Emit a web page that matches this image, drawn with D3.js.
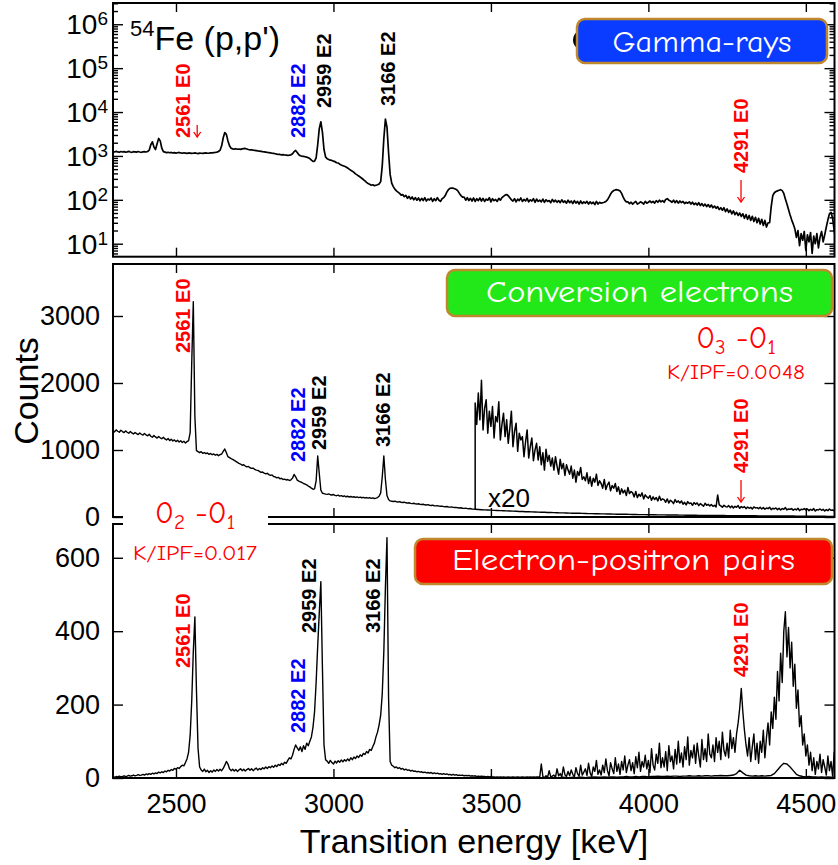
<!DOCTYPE html>
<html>
<head>
<meta charset="utf-8">
<script src="https://cdn.jsdelivr.net/npm/d3@7"></script>
<style>
  body { margin: 0; background: #fff; }
  svg { display: block; }
</style>
</head>
<body>
<svg id="chart" width="838" height="865"></svg>
<script>
// ---- spectra (counts per bin), energies in keV ----
const eStart = 2300, eStep = 5;

// gamma-ray spectrum 2300..4600 keV
const gammaCounts = [
  1250,1230,1270,1240,1210,1260,1230,1250,1220,1240,1270,1230,1210,1250,1240,1220,1260,1230,1210,1240,1250,1230,1260,
  1350,1800,2100,1600,1400,1900,2500,2200,1500,1250,
  1220,1190,1210,1180,1200,1170,1190,1160,1180,1200,1170,1150,1180,1160,1140,1170,1160,1140,1150,1170,1150,1130,1160,1150,1140,1160,1170,1150,1160,1180,1170,1190,1200,1220,1260,1350,
  1700,2600,3400,3100,2200,1700,1500,1450,
  1430,1460,1420,1440,1410,1450,1470,1480,1440,1400,1380,1370,1350,1340,1320,1300,1290,1270,1250,1240,1220,1200,1190,1170,1150,1140,1120,1100,1090,1080,1060,1070,1050,1040,1030,1040,
  1060,1120,1250,1330,1200,1060,1010,990,980,960,940,910,870,800,750,760,900,
  1800,4200,6000,3500,1400,950,860,
  830,800,790,760,740,700,690,650,620,600,580,560,530,500,470,450,420,390,370,350,330,310,290,270,250,235,225,215,220,210,215,220,230,260,
  600,2500,6900,4500,1200,380,240,200,
  175,160,150,140,128,132,118,126,108,120,104,116,100,112,98,110,95,108,96,112,94,104,99,110,92,106,96,112,98,92,106,112,125,
  150,170,182,186,184,178,172,160,140,125,115,
  115,98,112,96,108,94,110,92,106,96,110,94,108,92,104,98,112,90,106,96,
  102,92,108,98,112,120,128,132,124,112,100,94,106,90,104,96,110,92,102,94,
  108,90,100,94,106,88,104,92,98,90,104,88,100,92,96,86,102,90,98,88,
  96,86,100,88,94,84,98,86,94,82,96,84,92,80,94,82,90,84,92,80,
  90,82,88,78,92,80,88,84,
  86,88,92,100,115,135,152,163,168,170,166,160,140,115,98,90,
  90,82,88,80,86,92,80,84,90,86,80,92,84,88,94,86,92,84,96,88,
  98,90,96,88,102,106,98,94,88,98,86,96,84,94,86,92,82,88,84,90,
  80,88,78,84,76,86,74,82,72,80,70,78,68,76,66,72,64,70,60,66,
  58,66,54,62,52,58,48,56,46,52,44,50,42,48,38,46,36,44,34,42,
  32,40,30,38,28,36,26,34,24,30,
  30,70,125,145,155,160,165,170,162,140,105,80,60,45,35,28,
  22,14,20,9,17,12,19,7,16,11,18,6,15,10,17,8,14,19,11,16,24,35,48,52,38,20,12,17
];

// conversion-electron spectrum 2300..3445 keV
const electronCounts = [
  1290,1270,1300,1280,1265,1295,1275,1260,1285,1265,1250,1275,1255,1240,1262,1245,1230,1255,1235,1222,
  1245,1225,1212,1235,1205,1190,1215,1195,1178,1200,1182,1168,1190,1165,1150,1172,1140,1160,1135,1150,
  1125,1145,1120,1138,1112,1130,1105,1125,1140,
  1260,2300,3215,1500,990,975,
  960,975,950,962,945,955,935,948,930,940,922,935,915,930,940,
  980,1015,960,900,
  885,870,860,845,830,815,800,790,772,780,760,748,755,735,725,730,710,700,695,680,
  665,672,655,645,652,632,620,628,605,598,585,592,570,578,560,566,552,560,545,555,
  580,635,600,
  550,535,525,515,500,490,480,462,450,430,415,420,
  540,910,650,400,355,
  350,342,338,345,332,328,336,322,318,326,312,318,306,314,302,310,298,306,296,302,
  292,300,290,296,287,294,284,290,282,288,278,285,276,282,290,310,360,
  600,910,560,320,260,
  240,236,232,236,228,224,229,220,216,221,212,208,213,204,200,205,196,193,198,189,
  186,190,182,179,184,175,172,176,168,166,170,162,160,163,155,153,157,149,147,150,
  143,141,144,137,135,138,131,129,132,125,123,126,119,117
];

// conversion-electron tail 3450..4600 keV
const tailStart = 3450, tailStep = 10;
const electronTail = [
  115,112,109,107,104,102,99,97,95,93, 91,89,87,85,83,81,79,78,76,74,
  73,71,70,68,67,65,64,62,61,60, 58,57,56,55,54,52,51,50,49,48,
  47,46,45,44,43,42,41,40,40,39, 38,37,36,36,35,34,34,33,32,32,
  31,30,30,29,29,28,28,27,27,26, 26,25,25,24,24,23,23,22,22,22,
  21,21,20,20,20,19,19,18,18,18, 17,17,17,16,16,16,15,15,15,14,
  14,14,13,13,13,12,12,12,12,11, 11,11,10,10,10,9
];

// conversion-electron tail multiplied by 20, 3450..4600 keV
const x20Start = 3450, x20Step = 5;
const electronX20 = [
  1700,1380,1850,1450,2040,1300,1620,1750,1250,1580,
  1350,1650,1180,1500,1420,1720,1150,1380,1550,1200,
  1450,1100,1320,1580,1050,1280,1400,980,1250,1150,
  1200,900,1120,1300,880,1050,1180,840,1000,1100,
  850,1050,780,960,700,1010,830,920,760,880,
  700,900,760,640,860,720,800,620,780,700,
  640,760,580,700,520,680,620,740,560,600,
  540,660,500,600,460,580,520,640,470,540,
  500,430,560,410,480,520,390,470,430,500,
  380,450,340,420,360,400,320,440,350,380,
  360,300,380,290,340,310,360,270,330,300,
  280,320,250,300,260,290,240,310,250,270,
  260,220,270,210,250,230,200,260,220,240,
  210,240,190,220,180,230,200,210,175,215,
  190,210,170,200,180,160,205,175,190,165,
  185,160,175,150,330,180,165,145,175,155,
  150,170,140,165,135,160,145,170,130,155,
  140,155,125,150,130,145,120,150,135,140,
  125,145,120,140,115,135,125,145,110,130,
  120,135,110,130,105,125,115,140,105,120,
  115,125,100,120,105,130,95,115,110,125,
  105,120,95,115,100,125,90,110,105,120,
  100,115,90,110,95,120,100,105,90,115,
  105
];

// electron-positron pair spectrum 2300..4600 keV
const pairCounts = [
  3,2,4,3,5,3,4,6,4,5,7,5,6,8,6,7,9,7,8,10,8,11,9,12,10,13,11,14,12,16,
  14,17,15,19,17,21,19,23,21,26,24,28,26,31,35,33,42,52,
  70,116,210,345,439,240,81,30,
  22,18,24,17,21,15,20,16,22,18,23,19,24,20,26,
  35,45,38,25,
  20,24,19,23,18,22,25,20,24,19,23,26,21,25,20,24,27,22,26,23,
  28,25,30,26,31,28,33,29,35,31,37,34,40,36,43,40,
  48,55,52,62,78,90,82,75,85,72,88,78,95,88,100,112,138,
  180,260,360,450,535,300,90,50,
  46,40,48,42,38,46,41,47,43,49,44,50,46,52,47,55,50,57,53,60,
  56,63,59,67,64,72,68,78,75,86,95,
  112,125,145,171,230,345,520,655,220,45,35,
  32,28,30,26,28,24,26,22,24,21,22,19,21,18,19,17,18,16,17,15,
  16,14,15,13,15,12,14,12,13,11,12,10,12,10,11,9,10,8,10,8,
  9,7,8,7,8,6,7,6,7,5,6,5,6,4,5,4,5,4,4,3,
  4,3,4,3,3,2,3,2,3,2,3,2,2,3,2,2,3,2,2,3,
  2,2,3,2,2,3,2,3,2,3,2,3,
  3,2,38,4,1,6,2,20,3,5,
  8,2,25,6,12,3,30,9,4,18,
  6,22,10,3,28,12,5,35,8,16,
  25,7,40,14,4,30,18,48,10,22,
  8,35,15,52,20,6,42,25,12,55,
  18,38,10,45,22,60,15,35,50,20,
  42,12,58,28,70,18,45,30,62,25,
  48,15,80,35,22,65,40,95,28,55,
  30,72,20,88,45,60,25,78,38,100,
  42,68,30,85,50,112,35,75,55,90,
  40,95,60,30,105,50,80,45,120,65,
  55,90,45,110,70,100,50,125,75,60,
  95,55,130,80,110,70,120,150,190,244,
  180,130,90,60,110,45,85,120,50,95,
  40,100,70,130,55,110,150,90,180,135,
  220,160,290,210,340,260,400,453,330,410,
  300,370,250,310,190,240,140,170,90,120,
  60,90,35,70,20,55,10,45,25,65,
  15,50,30,8,60,20,45,5,70,30,
  40
];

// unscaled pair spectrum, 3650..4600 keV
const pairLowStart = 3650, pairLowStep = 10;
const pairLow = [
  0,1,0,1,1,0,1,1,2,1, 1,2,1,2,2,1,2,2,3,2,
  2,3,2,3,3,2,3,3,4,3, 3,4,3,4,4,3,4,4,5,4,
  4,5,4,5,5,4,5,5,6,5, 5,6,5,6,6,5,6,6,7,6,
  6,7,8,12,21,14,8,6,5,6, 5,6,5,6,7,12,22,32,40,38,
  30,20,10,6,4,3,4,3,3,2, 3,2,3,2,2,3
];

// axis ticks
const xTicks = [2500, 3000, 3500, 4000, 4500];
const gammaDecades = [1, 2, 3, 4, 5, 6];
const electronTicks = [0, 1000, 2000, 3000];
const pairTicks = [0, 200, 400, 600];

// transition labels
const transitions = [
  { text: "2561 E0", energy: 2561, color: "#ff0000" },
  { text: "2882 E2", energy: 2882, color: "#0000ff" },
  { text: "2959 E2", energy: 2959, color: "#000000" },
  { text: "3166 E2", energy: 3166, color: "#000000" },
  { text: "4291 E0", energy: 4291, color: "#ff0000" }
];

// ---- layout ----
const svg = d3.select("#chart");
const font = "'Liberation Sans', Arial, Helvetica, sans-serif";
const comic = "'Comic Sans MS', 'Comic Neue', 'DejaVu Sans', sans-serif";
const left = 113, right = 834.5;
const P = {
  top: { y0: 3, y1: 256.7 },
  mid: { y0: 264, y1: 517 },
  bot: { y0: 524, y1: 778 }
};

const x = d3.scaleLinear().domain([2300, 4591]).range([left, right]);
const yG = d3.scaleLog().domain([5.06, 3.05e6]).range([P.top.y1, P.top.y0]).clamp(true);
const yE = d3.scaleLinear().domain([0, 3776]).range([P.mid.y1, P.mid.y0]);
const yP = d3.scaleLinear().domain([0, 692]).range([P.bot.y1, P.bot.y0]);

const series = (start, step, arr) => arr.map((v, i) => [start + i * step, v]);
const gammaPts = series(eStart, eStep, gammaCounts);
const elecPts = series(eStart, eStep, electronCounts).concat(series(tailStart, tailStep, electronTail));
const x20Pts = [[x20Start, electronTail[0]]].concat(series(x20Start, x20Step, electronX20));
const pairPts = series(eStart, eStep, pairCounts);
const pairLowPts = series(pairLowStart, pairLowStep, pairLow);

// clip regions
const defs = svg.append("defs");
Object.entries(P).forEach(([k, p]) => {
  defs.append("clipPath").attr("id", "clip-" + k)
    .append("rect").attr("x", left).attr("y", p.y0)
    .attr("width", right - left).attr("height", p.y1 - p.y0);
});

function drawLine(pts, y, panel, width) {
  svg.append("path")
    .attr("clip-path", `url(#clip-${panel})`)
    .attr("d", d3.line().x(d => x(d[0])).y(d => y(d[1]))(pts))
    .attr("fill", "none").attr("stroke", "#000")
    .attr("stroke-width", width).attr("stroke-linejoin", "round");
}

drawLine(gammaPts, yG, "top", 1.7);
drawLine(elecPts, yE, "mid", 1.4);
drawLine(x20Pts, yE, "mid", 1.5);
drawLine(pairLowPts, yP, "bot", 1.4);
drawLine(pairPts, yP, "bot", 1.4);

// ---- frames and axes ----
function styleAxis(g) {
  g.select(".domain").remove();
  g.selectAll("line").attr("stroke", "#000").attr("stroke-width", 1.4);
  g.attr("font-family", font).attr("font-size", 27);
  g.selectAll("text").attr("fill", "#000");
}

function frameAxes(key, y, yTicks, showX) {
  const p = P[key];
  svg.append("g").attr("transform", `translate(0,${p.y1})`)
    .call(d3.axisBottom(x).tickValues(xTicks).tickSizeInner(-9).tickSizeOuter(0)
      .tickPadding(16).tickFormat(showX ? d3.format("d") : ""))
    .call(styleAxis);
  svg.append("g").attr("transform", `translate(0,${p.y0})`)
    .call(d3.axisBottom(x).tickValues(xTicks).tickSizeInner(9).tickSizeOuter(0).tickFormat(""))
    .call(styleAxis);
  if (yTicks) {
    svg.append("g").attr("transform", `translate(${left},0)`)
      .call(d3.axisLeft(y).tickValues(yTicks).tickSizeInner(-10).tickSizeOuter(0)
        .tickPadding(13).tickFormat(d3.format("d")))
      .call(styleAxis);
    svg.append("g").attr("transform", `translate(${right},0)`)
      .call(d3.axisRight(y).tickValues(yTicks).tickSizeInner(-10).tickSizeOuter(0).tickFormat(""))
      .call(styleAxis);
  }
  svg.append("rect").attr("x", left).attr("y", p.y0)
    .attr("width", right - left).attr("height", p.y1 - p.y0)
    .attr("fill", "none").attr("stroke", "#000").attr("stroke-width", 2);
}

frameAxes("top", yG, null, false);
frameAxes("mid", yE, electronTicks, false);
frameAxes("bot", yP, pairTicks, true);

// logarithmic ticks for the gamma panel
const majors = gammaDecades.map(d => Math.pow(10, d));
const minors = [];
for (let d = 0; d <= 6; d++) for (let k = 2; k <= 9; k++) {
  const v = k * Math.pow(10, d);
  if (v > 5.06 && v < 3.05e6) minors.push(v);
}
[[majors, 10], [minors, 5]].forEach(([vals, len]) => {
  svg.append("g").attr("transform", `translate(${left},0)`)
    .call(d3.axisLeft(yG).tickValues(vals).tickSizeInner(-len).tickSizeOuter(0).tickFormat(""))
    .call(styleAxis);
  svg.append("g").attr("transform", `translate(${right},0)`)
    .call(d3.axisRight(yG).tickValues(vals).tickSizeInner(-len).tickSizeOuter(0).tickFormat(""))
    .call(styleAxis);
});
gammaDecades.forEach(d => {
  const t = svg.append("text").attr("x", left - 5).attr("y", yG(Math.pow(10, d)))
    .attr("dy", "0.36em").attr("text-anchor", "end")
    .attr("font-family", font).attr("font-size", 28);
  t.append("tspan").text("10");
  t.append("tspan").attr("font-size", 19).attr("dy", -9).text(d);
});

// axis titles
svg.append("text").attr("transform", "translate(38,391) rotate(-90)")
  .attr("text-anchor", "middle").attr("font-family", font).attr("font-size", 34)
  .text("Counts");
svg.append("text").attr("x", 474).attr("y", 853)
  .attr("text-anchor", "middle").attr("font-family", font).attr("font-size", 34)
  .text("Transition energy [keV]");

// reaction label
const reac = svg.append("text").attr("x", 130).attr("y", 50)
  .attr("font-family", font).attr("font-size", 34);
reac.append("tspan").attr("font-size", 22).attr("dy", -14).text("54");
reac.append("tspan").attr("dy", 14).text("Fe (p,p')");

// ---- transition labels (offset from the line energy, bottom of text) ----
const labelLayout = {
  top: [[-5, 138], [9, 138], [10, 108], [9, 106], [8, 173]],
  mid: [[-5, 353], [9, 462], [5, 450], [4, 447], [8, 473]],
  bot: [[-5, 668], [9, 733], [-5, 633], [-6, 633], [8, 677]]
};
Object.entries(labelLayout).forEach(([key, lay]) => {
  transitions.forEach((t, i) => {
    const [dx, yb] = lay[i];
    svg.append("text")
      .attr("transform", `translate(${x(t.energy) + dx},${yb}) rotate(-90)`)
      .attr("font-family", font).attr("font-weight", "bold").attr("font-size", 20)
      .attr("fill", t.color).text(t.text);
  });
});

// red arrows marking the expected E0 positions
function arrow(xc, ya, yb) {
  const g = svg.append("g").attr("stroke", "#ff0000").attr("stroke-width", 1.3).attr("fill", "none");
  g.append("line").attr("x1", xc).attr("x2", xc).attr("y1", ya).attr("y2", yb);
  g.append("path").attr("d", `M${xc - 3.5},${yb - 5} L${xc},${yb} L${xc + 3.5},${yb - 5}`);
}
arrow(x(2561) + 2, 125, 137);
arrow(x(4291) + 1, 180, 202);
arrow(x(4291) + 1, 480, 502);

// x20 marker
svg.append("text").attr("x", 488).attr("y", 507)
  .attr("font-family", font).attr("font-size", 26).text("x20");

// multipolarity notes
svg.append("rect").attr("x", 123).attr("y", 500).attr("width", 145).attr("height", 66).attr("fill", "#fff");

function stateNote(xc, y, sub1, kText, ky, kw) {
  const t = svg.append("text").attr("x", xc).attr("y", y).attr("text-anchor", "middle")
    .attr("font-family", comic).attr("font-size", 31).attr("fill", "#ff0000");
  t.append("tspan").text("0");
  t.append("tspan").attr("font-size", 21).attr("dy", 6).text(sub1);
  t.append("tspan").attr("dy", -6).text(" -0");
  t.append("tspan").attr("font-size", 21).attr("dy", 6).text("1");
  svg.append("text").attr("x", xc).attr("y", ky).attr("text-anchor", "middle")
    .attr("font-family", comic).attr("font-size", 20).attr("fill", "#ff0000")
    .attr("textLength", kw).attr("lengthAdjust", "spacingAndGlyphs").text(kText);
}
stateNote(736, 348, "3", "K/IPF=0.0048", 379, 138);
stateNote(195, 523, "2", "K/IPF=0.017", 560, 124);

// ---- spectrum type boxes ----
svg.append("ellipse").attr("cx", 591).attr("cy", 40).attr("rx", 18).attr("ry", 13).attr("fill", "#000");

function badge(x0, x1, y0, y1, fill, text, baseline, tw) {
  svg.append("rect").attr("x", x0).attr("y", y0).attr("width", x1 - x0).attr("height", y1 - y0)
    .attr("rx", 8).attr("fill", fill).attr("stroke", "#c0882c").attr("stroke-width", 2.5);
  svg.append("text").attr("x", (x0 + x1) / 2).attr("y", baseline).attr("text-anchor", "middle")
    .attr("font-family", comic).attr("font-size", 31).attr("fill", "#fff")
    .attr("textLength", tw).attr("lengthAdjust", "spacingAndGlyphs").text(text);
}
badge(577, 827, 19, 63, "#0a3cff", "Gamma-rays", 52, 179);
badge(447, 832, 270, 316, "#22e81a", "Conversion electrons", 302, 307);
badge(415, 832, 539, 584, "#ff0000", "Electron-positron pairs", 570, 343);
</script>
</body>
</html>
